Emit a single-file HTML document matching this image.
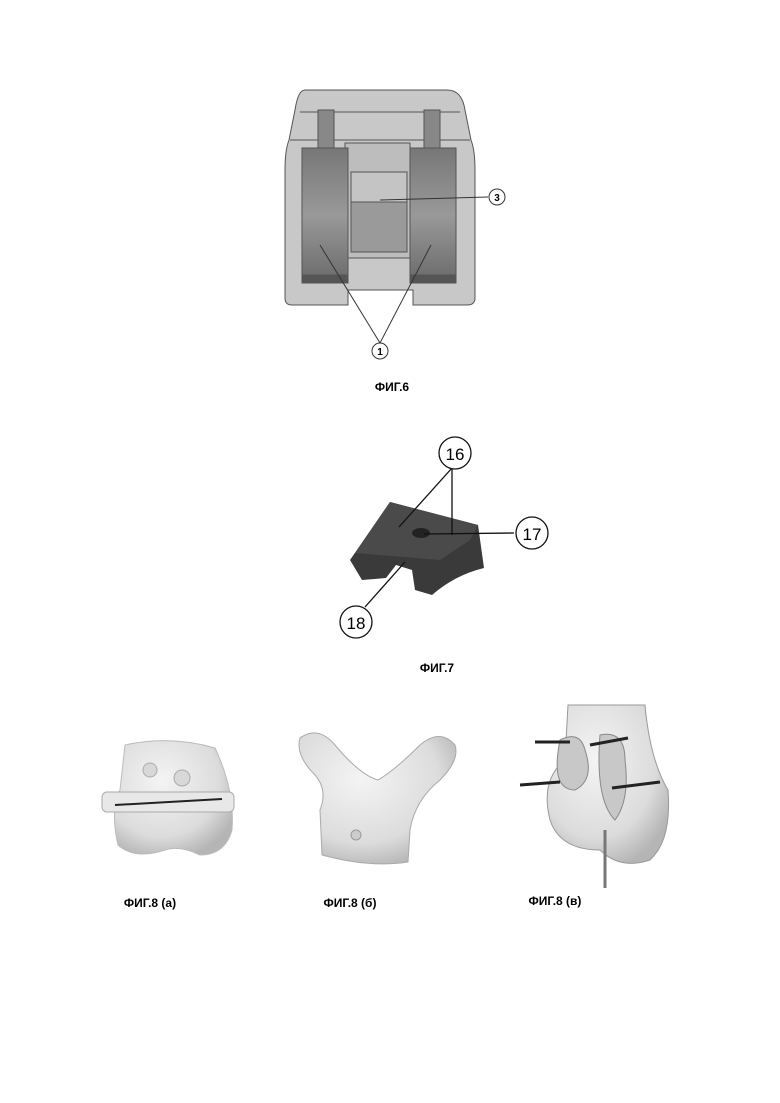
<!DOCTYPE html>
<html><head><meta charset="utf-8"><style>
html,body{margin:0;padding:0;background:#fff;}
svg{display:block;}
text{font-family:"Liberation Sans",sans-serif;}
</style></head><body>
<svg width="780" height="1103" viewBox="0 0 780 1103" xmlns="http://www.w3.org/2000/svg">
<defs>
<linearGradient id="cyl" x1="0" x2="0" y1="0" y2="1"><stop offset="0" stop-color="#777"/><stop offset="0.5" stop-color="#999"/><stop offset="1" stop-color="#6a6a6a"/></linearGradient>
<radialGradient id="bone" cx="0.4" cy="0.35" r="0.7"><stop offset="0" stop-color="#f4f4f4"/><stop offset="0.7" stop-color="#dcdcdc"/><stop offset="1" stop-color="#b5b5b5"/></radialGradient>
</defs>
<!-- FIG 6 -->
<g stroke="#555" stroke-width="1">
<path d="M305,90 H447 Q462,90 465,110 L471,140 Q475,150 475,170 V298 Q475,305 467,305 H413 V290 H348 V305 H292 Q285,305 285,298 V170 Q285,150 289,140 L295,110 Q298,90 305,90 Z" fill="#c8c8c8"/>
<path d="M300,112 H460 M290,140 H470" fill="none"/>
<rect x="345" y="143" width="65" height="115" fill="#bdbdbd"/>
<rect x="351" y="172" width="56" height="80" fill="#9a9a9a"/>
<rect x="351" y="172" width="56" height="30" fill="#c4c4c4"/>
<rect x="318" y="110" width="16" height="38" fill="#888"/>
<rect x="424" y="110" width="16" height="38" fill="#888"/>
<rect x="302" y="148" width="46" height="135" fill="url(#cyl)"/>
<rect x="410" y="148" width="46" height="135" fill="url(#cyl)"/>
<rect x="302" y="275" width="46" height="8" fill="#555"/>
<rect x="410" y="275" width="46" height="8" fill="#555"/>
</g>
<g stroke="#333" stroke-width="1" fill="none">
<line x1="320" y1="245" x2="380" y2="343"/>
<line x1="431" y1="245" x2="380" y2="343"/>
<line x1="380" y1="200" x2="488" y2="197"/>
<circle cx="380" cy="351" r="8" fill="#fff"/>
<circle cx="497" cy="197" r="8" fill="#fff"/>
</g>
<text x="380" y="355" font-size="10" text-anchor="middle" font-weight="bold">1</text>
<text x="497" y="201" font-size="10" text-anchor="middle" font-weight="bold">3</text>
<text x="392" y="391" font-size="12" font-weight="bold" text-anchor="middle">ФИГ.6</text>
<!-- FIG 7 -->
<path d="M390,502 L478,525 L484,568 Q455,575 432,595 L415,590 L412,570 L396,565 L386,578 L362,580 L350,560 Z" fill="#3a3a3a"/>
<path d="M390,502 L478,525 L470,540 L440,560 L355,553 Z" fill="#4a4a4a"/>
<ellipse cx="421" cy="533" rx="9" ry="5" fill="#222"/>
<g stroke="#111" stroke-width="1.3" fill="none">
<line x1="452" y1="468" x2="399" y2="527"/>
<line x1="452" y1="468" x2="452" y2="535"/>
<line x1="424" y1="534" x2="514" y2="533"/>
<line x1="405" y1="562" x2="365" y2="607"/>
<circle cx="455" cy="453" r="16" fill="#fff"/>
<circle cx="532" cy="533" r="16" fill="#fff"/>
<circle cx="356" cy="622" r="16" fill="#fff"/>
</g>
<text x="455" y="460" font-size="17" text-anchor="middle">16</text>
<text x="532" y="540" font-size="17" text-anchor="middle">17</text>
<text x="356" y="629" font-size="17" text-anchor="middle">18</text>
<text x="437" y="672" font-size="12" font-weight="bold" text-anchor="middle">ФИГ.7</text>
<!-- FIG 8a -->
<path d="M125,745 Q170,735 215,748 Q235,790 232,830 Q225,855 200,855 Q180,845 165,850 Q135,860 118,845 Q110,810 120,790 Z" fill="url(#bone)" stroke="#bbb"/>
<rect x="102" y="792" width="132" height="20" rx="5" fill="#e8e8e8" stroke="#aaa"/>
<line x1="115" y1="805" x2="222" y2="799" stroke="#222" stroke-width="2"/>
<circle cx="150" cy="770" r="7" fill="#d8d8d8" stroke="#aaa"/>
<circle cx="182" cy="778" r="8" fill="#d8d8d8" stroke="#aaa"/>
<text x="150" y="907" font-size="12" font-weight="bold" text-anchor="middle">ФИГ.8 (а)</text>
<!-- FIG 8b -->
<path d="M300,738 Q318,725 335,745 Q360,775 378,780 Q395,770 420,745 Q440,728 455,745 Q460,760 440,780 Q415,800 410,830 L408,862 Q370,868 322,855 L320,810 Q328,790 315,775 Q295,755 300,738 Z" fill="url(#bone)" stroke="#aaa"/>
<circle cx="356" cy="835" r="5" fill="#ccc" stroke="#999"/>
<text x="350" y="907" font-size="12" font-weight="bold" text-anchor="middle">ФИГ.8 (б)</text>
<!-- FIG 8c -->
<path d="M568,705 H645 Q650,760 668,790 Q672,840 650,860 Q620,870 600,850 Q560,850 550,820 Q540,780 565,760 Z" fill="url(#bone)" stroke="#999"/>
<path d="M560,740 Q580,730 585,750 Q595,780 575,790 Q550,790 560,740 Z M600,735 Q625,730 625,760 Q630,800 615,820 Q595,800 600,735 Z" fill="#c8c8c8" stroke="#888"/>
<g stroke="#222" stroke-width="3">
<line x1="535" y1="742" x2="570" y2="742"/><line x1="590" y1="745" x2="628" y2="738"/>
<line x1="520" y1="785" x2="560" y2="782"/><line x1="612" y1="788" x2="660" y2="782"/>
</g>
<line x1="605" y1="830" x2="605" y2="888" stroke="#777" stroke-width="3"/>
<text x="555" y="905" font-size="12" font-weight="bold" text-anchor="middle">ФИГ.8 (в)</text>
</svg>
</body></html>
